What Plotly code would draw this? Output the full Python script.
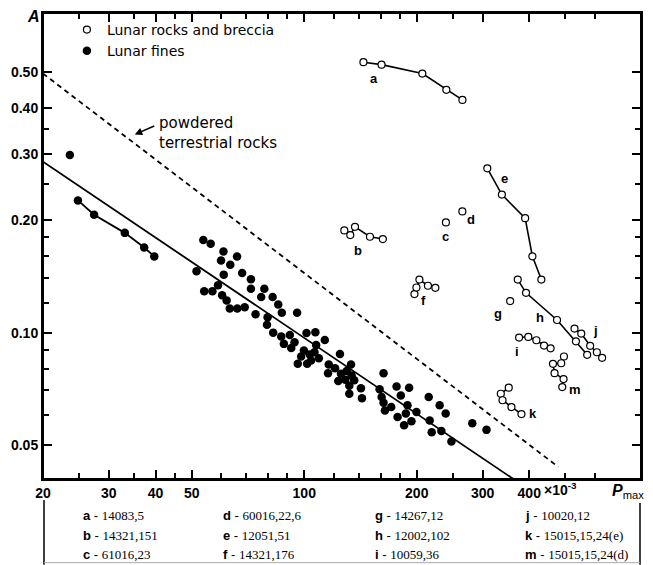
import math
import plotly.graph_objects as go

# ---------------- data (P_max x1e3, A) ----------------
# Lunar fines (filled dots)
fines_x = [53.7, 56.2, 60.8, 66.1, 59.9, 63.4, 51.5, 60.9, 68.2, 72.0,
           58.8, 54.0, 56.8, 72.0, 78.2, 60.3, 76.7, 82.3, 62.0, 85.2,
           63.2, 66.2, 69.3, 87.1, 95.7, 74.1, 79.8, 79.5, 82.6, 86.8,
           91.5, 88.2, 94.2, 92.3, 101.4, 107.1, 107.6, 113.5, 99.8, 98.1,
           96.1, 101.8, 103.5, 104.3, 109.4, 106.5, 124.6, 116.3, 120.9, 115.8,
           133.4, 125.4, 129.9, 133.9, 123.3, 128.8, 136.1, 132.0, 141.8, 132.0,
           142.7, 163.0, 176.6, 159.1, 161.1, 163.0, 170.9, 164.4, 177.7, 190.8,
           181.3, 188.9, 187.0, 193.6, 185.0, 199.6, 215.3, 230.3, 239.0, 216.6,
           219.3, 232.8, 247.6, 281.6, 307.4, 23.6]
fines_y = [0.177, 0.173, 0.165, 0.160, 0.156, 0.152, 0.146, 0.143, 0.1445, 0.139,
           0.134, 0.129, 0.129, 0.131, 0.131, 0.126, 0.1245, 0.1245, 0.122, 0.119,
           0.116, 0.116, 0.117, 0.113, 0.113, 0.112, 0.110, 0.105, 0.100, 0.0976,
           0.0986, 0.0933, 0.0942, 0.0910, 0.0998, 0.1002, 0.0927, 0.0956, 0.0895, 0.0863,
           0.0825, 0.0825, 0.0874, 0.0842, 0.0854, 0.0886, 0.0877, 0.0822, 0.0803, 0.0779,
           0.0822, 0.0776, 0.0789, 0.0768, 0.0742, 0.0748, 0.0745, 0.0721, 0.0710, 0.0686,
           0.0667, 0.0779, 0.0717, 0.0705, 0.0672, 0.0649, 0.0632, 0.0619, 0.0594, 0.0712,
           0.0679, 0.0639, 0.0607, 0.0579, 0.0565, 0.0613, 0.0672, 0.0639, 0.0607, 0.0582,
           0.0541, 0.0545, 0.0511, 0.0572, 0.0549, 0.299]

# Lunar fines sample measured at several pressures (connected)
fines_line_x = [24.8, 27.4, 33.1, 37.3, 39.7]
fines_line_y = [0.226, 0.207, 0.185, 0.169, 0.160]

# Lunar rocks and breccia (open circles)
a_x = [144, 161, 207, 240, 265]
a_y = [0.530, 0.522, 0.494, 0.447, 0.420]
b_x = [128.0, 132.8, 136.7, 149.9, 162.3]
b_y = [0.1878, 0.1825, 0.1920, 0.1806, 0.1781]
e_x = [308.9, 337.9, 390.0, 407.8, 430.9]
e_y = [0.2754, 0.2343, 0.2026, 0.1601, 0.1387]
f_x = [197.2, 199.6, 203.3, 214.3, 224.3]
f_y = [0.1268, 0.1321, 0.1387, 0.1335, 0.1318]
h_x = [372.6, 392.1, 474.6, 533.2, 571.5]
h_y = [0.1387, 0.1278, 0.1081, 0.0948, 0.0872]
i_x = [375.7, 397.7, 417.9, 438.1, 456.2]
i_y = [0.0970, 0.0974, 0.0954, 0.0923, 0.0908]
j_x = [528.6, 551.0, 582.1, 606.6, 626.6]
j_y = [0.1025, 0.0994, 0.0922, 0.0886, 0.0856]
k_x = [352.5, 335.7, 339.2, 358.4, 381.2]
k_y = [0.0712, 0.0686, 0.0659, 0.0632, 0.0605]
m_x = [495.3, 487.1, 462.9, 467.5, 494.1, 490.2]
m_y = [0.0863, 0.0828, 0.0825, 0.0779, 0.0751, 0.0715]
single_x = [239.4, 264.9, 355.6]   # c, d, g
single_y = [0.1973, 0.2111, 0.1215]

# Fitted line for lunar fines and line for powdered terrestrial rocks
fit_x = [20, 362]
fit_y = [0.287, 0.0406]
terr_x = [20, 478]
terr_y = [0.494, 0.0437]

# Sample labels on the plot
label_names = ["a", "b", "c", "d", "e", "f", "g", "h", "i", "j", "k", "m"]
label_x = [153.9, 139.5, 239.0, 279.9, 344.0, 208.9, 329.6, 426.5, 370.3, 600.3, 409.6, 531.0]
label_y = [0.480, 0.166, 0.181, 0.201, 0.2585, 0.1217, 0.1128, 0.1098, 0.0890, 0.1012, 0.0609, 0.0704]

# Key table
key_letters = ["a", "b", "c", "d", "e", "f", "g", "h", "i", "j", "k", "m"]
key_samples = ["14083,5", "14321,151", "61016,23", "60016,22,6", "12051,51", "14321,176",
               "14267,12", "12002,102", "10059,36", "10020,12", "15015,15,24(e)", "15015,15,24(d)"]

# Axis ticks
x_major = [20, 30, 40, 50, 100, 200, 300, 400]
x_major_text = ["20", "30", "40", "50", "100", "200", "300", "400"]
x_minor = [25, 35, 45, 60, 70, 80, 90, 120, 140, 160, 180, 250, 500, 600]
y_major = [0.05, 0.10, 0.20, 0.30, 0.40, 0.50]
y_major_text = ["0.05", "0.10", "0.20", "0.30", "0.40", "0.50"]
y_minor = [0.06, 0.07, 0.08, 0.09, 0.12, 0.14, 0.16, 0.18, 0.25, 0.35]

# ---------------- geometry helpers (page pixels; page body has an 8px margin) ----------------
PL, PT, PW, PH = 41, 11, 600, 468      # plot area in page pixels


def px(xp):
    return (xp - PL) / PW


def py(yp):
    return (PT + PH - yp) / PH


XR = [math.log10(20), math.log10(20) + 1.6]
YR = [-1.392, -0.144]

# ---------------- figure ----------------
fig = go.Figure()

open_marker = dict(symbol="circle", size=7, color="white", line=dict(color="black", width=1.2))
filled_marker = dict(symbol="circle", size=8.5, color="black", line=dict(width=0))

fig.add_trace(go.Scatter(x=fit_x, y=fit_y, mode="lines", line=dict(color="black", width=1.8),
                         showlegend=False, hoverinfo="skip"))
# drawn on the overlay axes (identical ranges) so the minor-tick axes are rendered
fig.add_trace(go.Scatter(x=terr_x, y=terr_y, mode="lines", xaxis="x2", yaxis="y2",
                         line=dict(color="black", width=1.8, dash="5px,4px"),
                         showlegend=False, hoverinfo="skip"))

fig.add_trace(go.Scatter(x=single_x, y=single_y, mode="markers", marker=open_marker,
                         name="Lunar rocks and breccia", showlegend=True, legendrank=1))
fig.add_trace(go.Scatter(x=fines_x, y=fines_y, mode="markers", marker=filled_marker,
                         name="Lunar fines", showlegend=True, legendrank=2))
fig.add_trace(go.Scatter(x=fines_line_x, y=fines_line_y, mode="lines+markers",
                         marker=filled_marker, line=dict(color="black", width=1.8),
                         showlegend=False))

groups = [(a_x, a_y), (b_x, b_y), (e_x, e_y), (f_x, f_y), (h_x, h_y),
          (i_x, i_y), (j_x, j_y), (k_x, k_y), (m_x, m_y)]
for gx, gy in groups:
    fig.add_trace(go.Scatter(x=gx, y=gy, mode="lines+markers", marker=open_marker,
                             line=dict(color="black", width=1.6), showlegend=False))

annotations = []
for name, lx, ly in zip(label_names, label_x, label_y):
    annotations.append(dict(x=math.log10(lx), y=math.log10(ly), xref="x", yref="y",
                            text="<b>%s</b>" % name, showarrow=False,
                            font=dict(family="Liberation Sans", size=13, color="black")))

# powdered terrestrial rocks label + arrow
annotations.append(dict(x=math.log10(35.2), y=math.log10(0.3395), xref="x", yref="y",
                        text="", showarrow=True, ax=21, ay=-9, arrowhead=2, arrowsize=1,
                        arrowwidth=1.5, arrowcolor="black", standoff=0))
annotations.append(dict(x=px(155), y=py(132), xref="paper", yref="paper",
                        xanchor="left", yanchor="middle", align="left", showarrow=False,
                        text="powdered<br>terrestrial rocks",
                        font=dict(family="DejaVu Sans", size=15, color="black")))

# axis titles
annotations.append(dict(x=px(31), y=py(15), xref="paper", yref="paper",
                        xanchor="center", yanchor="middle",
                        text="<b><i>A</i></b>", showarrow=False,
                        font=dict(family="Liberation Sans", size=16, color="black")))
annotations.append(dict(x=px(628), y=py(492), xref="paper", yref="paper",
                        xanchor="center", yanchor="middle",
                        text="<b><i>P</i></b><sub>max</sub>", showarrow=False,
                        font=dict(family="Liberation Sans", size=16, color="black")))
annotations.append(dict(x=px(542), y=py(489), xref="paper", yref="paper",
                        xanchor="left", yanchor="middle", text="<b>×10<sup>-3</sup></b>",
                        showarrow=False,
                        font=dict(family="Liberation Sans", size=14, color="black")))

# key table
col_px = [79, 220, 372, 523]
row_px = [516, 536, 555]
for idx, (letter, sample) in enumerate(zip(key_letters, key_samples)):
    c, r = divmod(idx, 3)
    annotations.append(dict(
        x=px(col_px[c]), y=py(row_px[r]), xref="paper", yref="paper",
        xanchor="left", yanchor="middle", showarrow=False,
        text="<b>%s</b> - <span style='font-family:Liberation Serif'>%s</span>" % (letter, sample),
        font=dict(family="Liberation Sans", size=13, color="black")))

shapes = [
    dict(type="rect", xref="paper", yref="paper", x0=0, x1=1, y0=0, y1=1,
         line=dict(color="black", width=2), layer="above"),
    dict(type="line", xref="paper", yref="paper", x0=px(42), x1=px(42),
         y0=py(500), y1=py(565), line=dict(color="black", width=1.5)),
    dict(type="line", xref="paper", yref="paper", x0=px(640), x1=px(640),
         y0=py(503), y1=py(565), line=dict(color="black", width=1.5)),
    dict(type="line", xref="paper", yref="paper", x0=px(42), x1=px(640),
         y0=py(563), y1=py(563), line=dict(color="#aaaaaa", width=1)),
]

tickfont = dict(family="Liberation Sans", size=14, color="black")
major_common = dict(type="log", showgrid=False, zeroline=False, showline=True, linecolor="black",
                    linewidth=2, mirror="ticks", ticks="inside", ticklen=9, tickwidth=2,
                    tickcolor="black", tickfont=tickfont, tickmode="array")
minor_common = dict(type="log", showgrid=False, zeroline=False, showline=False,
                    mirror="ticks", ticks="inside", ticklen=6, tickwidth=1.8,
                    tickcolor="black", showticklabels=False, tickmode="array")

fig.update_layout(
    width=645, height=557,
    margin=dict(l=PL - 8, r=12, t=PT - 8, b=86),
    paper_bgcolor="white", plot_bgcolor="white",
    showlegend=True,
    legend=dict(x=0.04, y=0.998, xanchor="left", yanchor="top", bgcolor="rgba(0,0,0,0)",
                font=dict(family="DejaVu Sans", size=14, color="black"),
                tracegroupgap=0, itemwidth=30),
    xaxis=dict(**major_common, range=XR, tickvals=x_major,
               ticktext=["<b>%s</b>" % t for t in x_major_text]),
    yaxis=dict(**major_common, range=YR, tickvals=y_major,
               ticktext=["<b>%s</b>" % t for t in y_major_text]),
    xaxis2=dict(**minor_common, range=XR, tickvals=x_minor, overlaying="x", anchor="y",
                side="top"),
    yaxis2=dict(**minor_common, range=YR, tickvals=y_minor, overlaying="y", anchor="x2",
                side="left"),
    annotations=annotations,
    shapes=shapes,
)

fig.write_html("out.html")
